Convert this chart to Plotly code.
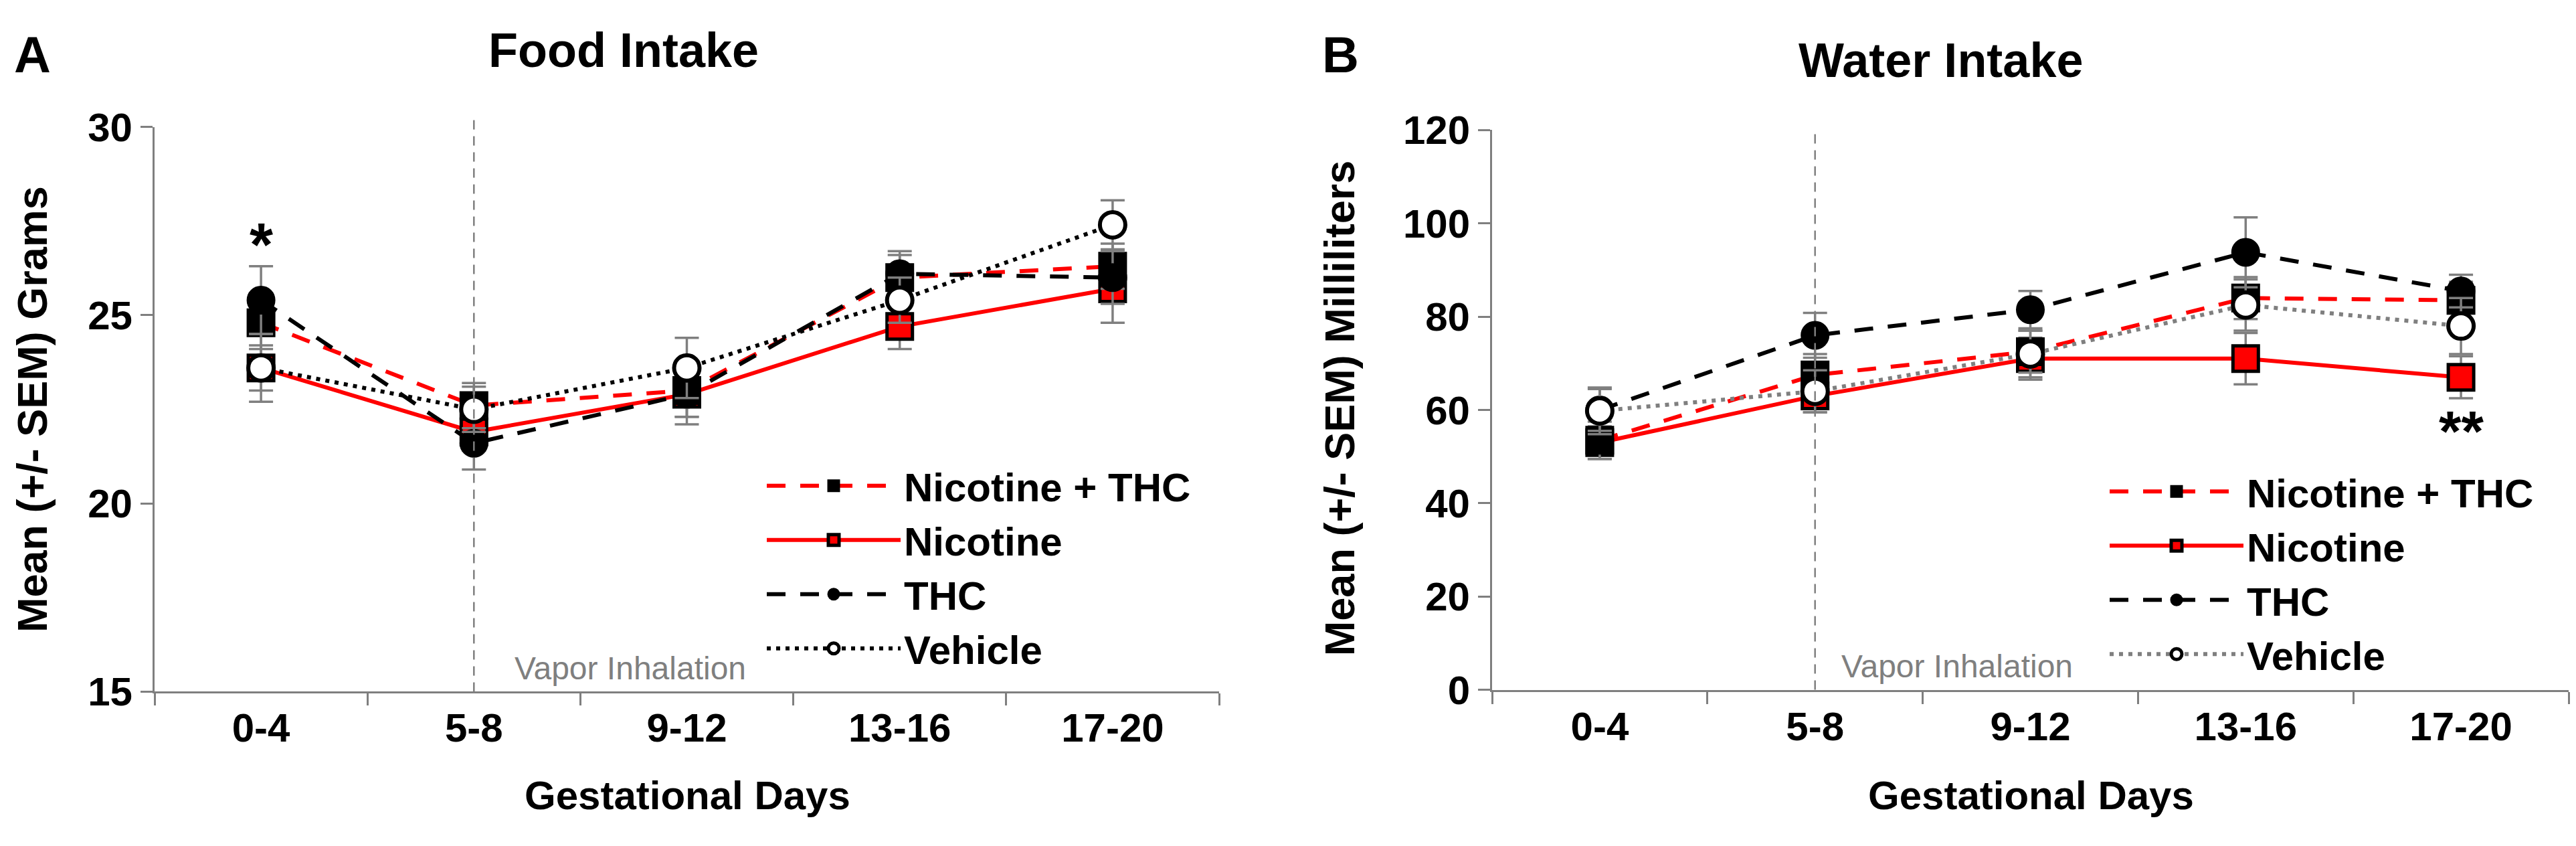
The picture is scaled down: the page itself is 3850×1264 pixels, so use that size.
import plotly.graph_objects as go

# gestational day bins (categories)
days = ["0-4", "5-8", "9-12", "13-16", "17-20"]
groups = ["Nicotine + THC", "Nicotine", "THC", "Vehicle"]

# Panel A - food intake (grams)
food_nic_thc = [24.8, 22.6, 23.0, 26.0, 26.3]
food_nic = [23.6, 21.9, 22.9, 24.7, 25.7]
food_thc = [25.4, 21.6, 22.9, 26.1, 26.0]
food_veh = [23.6, 22.5, 23.6, 25.4, 27.4]
food_nic_thc_sem = [0.7, 0.6, 0.7, 0.6, 0.6]
food_nic_sem = [0.6, 0.5, 0.6, 0.6, 0.9]
food_thc_sem = [0.9, 0.7, 0.8, 0.6, 0.7]
food_veh_sem = [0.9, 0.6, 0.8, 0.6, 0.65]

# Panel B - water intake (ml)
water_nic_thc = [53.5, 67.5, 72.5, 84.0, 83.5]
water_nic = [53.0, 63.0, 71.0, 71.0, 67.0]
water_thc = [60.0, 76.0, 81.5, 93.8, 85.5]
water_veh = [59.8, 64.0, 72.0, 82.5, 78.0]
water_nic_thc_sem = [4.0, 4.5, 4.5, 4.5, 4.0]
water_nic_sem = [3.5, 3.5, 4.5, 5.5, 4.5]
water_thc_sem = [4.5, 4.8, 4.0, 7.5, 3.5]
water_veh_sem = [5.0, 4.5, 5.0, 5.5, 6.0]

food_ticks = [15, 20, 25, 30]
water_ticks = [0, 20, 40, 60, 80, 100, 120]

W, H = 3850, 1264
FONT = "Liberation Sans, Arial, Helvetica, sans-serif"
GRAY = "#7f7f7f"
RED = "#ff0000"

fig = go.Figure()


def add_panel(xa, ya, leg, vals, sems, veh_line):
    # drawing order: Nicotine, Nicotine + THC, THC, Vehicle (legend keeps original order)
    styles = {
        "Nicotine + THC": dict(line=dict(color=RED, width=6, dash="28px,22px"),
                               marker=dict(symbol="square", size=40, color="black",
                                           line=dict(color="black", width=3))),
        "Nicotine": dict(line=dict(color=RED, width=6),
                         marker=dict(symbol="square", size=38, color=RED,
                                     line=dict(color="black", width=5))),
        "THC": dict(line=dict(color="black", width=6, dash="28px,22px"),
                    marker=dict(symbol="circle", size=40, color="black",
                                line=dict(color="black", width=3))),
        "Vehicle": dict(line=dict(color=veh_line, width=6, dash="6px,8px"),
                        marker=dict(symbol="circle", size=38, color="white",
                                    line=dict(color="black", width=6))),
    }
    for name in ["Nicotine", "Nicotine + THC", "THC", "Vehicle"]:
        i = groups.index(name)
        fig.add_trace(go.Scatter(
            x=days, y=vals[i], name=name, mode="lines+markers",
            xaxis=xa, yaxis=ya, legend=leg, legendrank=i + 1,
            error_y=dict(type="data", array=sems[i], color=GRAY,
                         thickness=3.5, width=18),
            **styles[name]))


add_panel("x", "y", "legend",
          [food_nic_thc, food_nic, food_thc, food_veh],
          [food_nic_thc_sem, food_nic_sem, food_thc_sem, food_veh_sem], "black")
add_panel("x2", "y2", "legend2",
          [water_nic_thc, water_nic, water_thc, water_veh],
          [water_nic_thc_sem, water_nic_sem, water_thc_sem, water_veh_sem], GRAY)

xcommon = dict(type="category", range=[-0.5, 4.5], showline=True, linecolor=GRAY,
               linewidth=3, ticks="outside", tickson="boundaries", ticklen=18,
               tickwidth=3, tickcolor=GRAY, showgrid=False, zeroline=False,
               tickfont=dict(family=FONT, size=60, color="black", weight="bold"))
ycommon = dict(showline=True, linecolor=GRAY, linewidth=3, ticks="outside",
               ticklen=18, tickwidth=3, tickcolor=GRAY, showgrid=False,
               zeroline=False,
               tickfont=dict(family=FONT, size=60, color="black", weight="bold"))

legcommon = dict(xanchor="left", yanchor="top", bgcolor="rgba(0,0,0,0)",
                 font=dict(family=FONT, size=60, color="black", weight="bold"),
                 itemwidth=200, traceorder="normal", tracegroupgap=0)

fig.update_layout(
    width=W, height=H, margin=dict(l=0, r=0, t=0, b=0),
    paper_bgcolor="white", plot_bgcolor="white",
    xaxis=dict(domain=[223 / W, 1814 / W], anchor="y", **xcommon),
    yaxis=dict(domain=[1 - 1048 / H, 1 - 157 / H], anchor="x", range=[15, 30],
               tickvals=food_ticks, **ycommon),
    xaxis2=dict(domain=[2222 / W, 3831 / W], anchor="y2", **xcommon),
    yaxis2=dict(domain=[1 - 1045 / H, 1 - 162 / H], anchor="x2", range=[0, 120],
                tickvals=water_ticks, **ycommon),
    legend=dict(x=1133 / W, y=1 - 675 / H, **legcommon),
    legend2=dict(x=3140 / W, y=1 - 684 / H, **legcommon),
)

# vapor inhalation onset lines
fig.add_shape(type="line", xref="x", yref="y domain", x0="5-8", x1="5-8", y0=0, y1=1.02,
              line=dict(color=GRAY, width=2.5, dash="14px,10px"))
fig.add_shape(type="line", xref="x2", yref="y2 domain", x0="5-8", x1="5-8", y0=0, y1=1.0,
              line=dict(color=GRAY, width=2.5, dash="14px,10px"))

ann = []
def txt(text, x, y, size, xref="paper", yref="paper", xanchor="center", color="black",
        bold=True, angle=0, yanchor="middle"):
    ann.append(dict(text=text, x=x, y=y, xref=xref, yref=yref, xanchor=xanchor,
                    yanchor=yanchor, showarrow=False, textangle=angle,
                    font=dict(family=FONT, size=size, color=color,
                              weight="bold" if bold else "normal")))

txt("A", 40 / W, 1 - 43 / H, 76)
txt("B", 1995 / W, 1 - 43 / H, 76)
txt("Food Intake", 924 / W, 1 - 36 / H, 72)
txt("Water Intake", 2892 / W, 1 - 52 / H, 72)
txt("Mean (+/- SEM) Grams", 40 / W, 1 - 603 / H, 63, angle=-90)
txt("Mean (+/- SEM) Milliliters", 1994 / W, 1 - 601 / H, 63, angle=-90)
txt("Gestational Days", 1019 / W, 1 - 1212 / H, 60)
txt("Gestational Days", 3027 / W, 1 - 1212 / H, 60)
txt("Vapor Inhalation", 759 / W, 1 - 1011 / H, 48, xanchor="left", color=GRAY, bold=False)
txt("Vapor Inhalation", 2742 / W, 1 - 1008 / H, 48, xanchor="left", color=GRAY, bold=False)
txt("*", "0-4", 1 - 343 / H, 90, xref="x")
txt("**", "17-20", 1 - 690 / H, 86, xref="x2", yanchor="bottom")
fig.update_layout(annotations=ann)

fig.write_html("out.html")
